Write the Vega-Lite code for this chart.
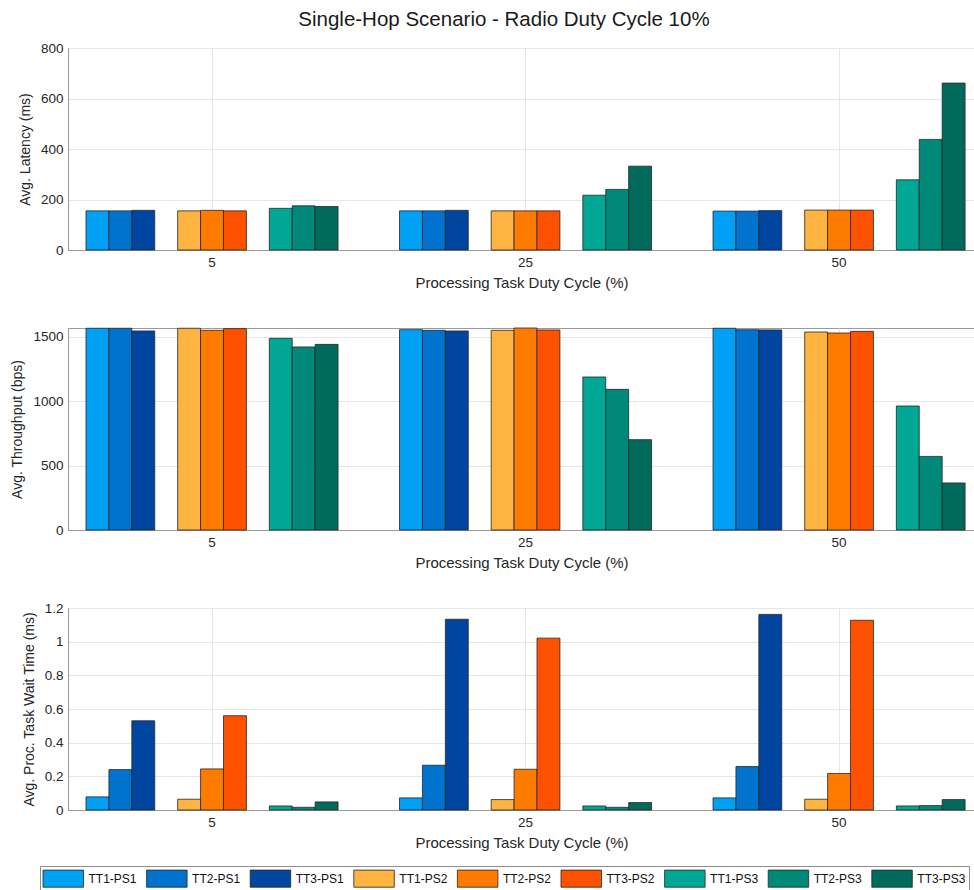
{
  "$schema": "https://vega.github.io/schema/vega-lite/v6.json",
  "padding": {"left": 10, "top": 10, "right": 0, "bottom": 0},
  "background": "white",
  "title": {
    "text": "Single-Hop Scenario - Radio Duty Cycle 10%",
    "fontSize": 20.5,
    "fontWeight": "normal",
    "font": "Liberation Sans",
    "color": "#1a1a1a",
    "anchor": "middle",
    "offset": 10,
    "dx": 11
  },
  "data": {
    "values": [
      {"cycle": "5", "series": "TT1-PS1", "latency": 155, "throughput": 1565, "wait": 0.078},
      {"cycle": "5", "series": "TT2-PS1", "latency": 155, "throughput": 1565, "wait": 0.240},
      {"cycle": "5", "series": "TT3-PS1", "latency": 157, "throughput": 1544, "wait": 0.530},
      {"cycle": "5", "series": "TT1-PS2", "latency": 155, "throughput": 1565, "wait": 0.064},
      {"cycle": "5", "series": "TT2-PS2", "latency": 157, "throughput": 1549, "wait": 0.244},
      {"cycle": "5", "series": "TT3-PS2", "latency": 155, "throughput": 1562, "wait": 0.560},
      {"cycle": "5", "series": "TT1-PS3", "latency": 165, "throughput": 1487, "wait": 0.024},
      {"cycle": "5", "series": "TT2-PS3", "latency": 175, "throughput": 1420, "wait": 0.016},
      {"cycle": "5", "series": "TT3-PS3", "latency": 172, "throughput": 1440, "wait": 0.048},
      {"cycle": "25", "series": "TT1-PS1", "latency": 155, "throughput": 1554, "wait": 0.072},
      {"cycle": "25", "series": "TT2-PS1", "latency": 155, "throughput": 1549, "wait": 0.266},
      {"cycle": "25", "series": "TT3-PS1", "latency": 157, "throughput": 1544, "wait": 1.133},
      {"cycle": "25", "series": "TT1-PS2", "latency": 155, "throughput": 1549, "wait": 0.062},
      {"cycle": "25", "series": "TT2-PS2", "latency": 155, "throughput": 1567, "wait": 0.242},
      {"cycle": "25", "series": "TT3-PS2", "latency": 155, "throughput": 1552, "wait": 1.021},
      {"cycle": "25", "series": "TT1-PS3", "latency": 217, "throughput": 1187, "wait": 0.024},
      {"cycle": "25", "series": "TT2-PS3", "latency": 240, "throughput": 1091, "wait": 0.016},
      {"cycle": "25", "series": "TT3-PS3", "latency": 332, "throughput": 701, "wait": 0.044},
      {"cycle": "50", "series": "TT1-PS1", "latency": 154, "throughput": 1565, "wait": 0.072},
      {"cycle": "50", "series": "TT2-PS1", "latency": 154, "throughput": 1554, "wait": 0.258},
      {"cycle": "50", "series": "TT3-PS1", "latency": 156, "throughput": 1552, "wait": 1.162},
      {"cycle": "50", "series": "TT1-PS2", "latency": 158, "throughput": 1536, "wait": 0.064},
      {"cycle": "50", "series": "TT2-PS2", "latency": 158, "throughput": 1528, "wait": 0.217},
      {"cycle": "50", "series": "TT3-PS2", "latency": 158, "throughput": 1541, "wait": 1.127},
      {"cycle": "50", "series": "TT1-PS3", "latency": 278, "throughput": 962, "wait": 0.024},
      {"cycle": "50", "series": "TT2-PS3", "latency": 438, "throughput": 571, "wait": 0.026},
      {"cycle": "50", "series": "TT3-PS3", "latency": 661, "throughput": 365, "wait": 0.062}
    ]
  },
  "bounds": "flush",
  "spacing": 78,
  "vconcat": [
    {
      "width": 907,
      "height": 202,
      "mark": {"type": "bar", "stroke": "#262626", "strokeWidth": 0.8},
      "encoding": {
        "x": {
          "field": "cycle", "type": "nominal", "sort": ["5", "25", "50"],
          "scale": {"paddingInner": 0.196, "paddingOuter": 0.0445, "align": 0.645},
          "axis": {"title": "Processing Task Duty Cycle (%)", "labelAngle": 0}
        },
        "xOffset": {
          "field": "series", "type": "nominal",
          "scale": {
            "domain": ["TT1-PS1", "TT2-PS1", "TT3-PS1", "gap-a", "TT1-PS2", "TT2-PS2", "TT3-PS2", "gap-b", "TT1-PS3", "TT2-PS3", "TT3-PS3"],
            "paddingInner": 0, "paddingOuter": 0
          }
        },
        "y": {
          "field": "latency", "type": "quantitative",
          "scale": {"domain": [0, 800], "nice": false},
          "axis": {"title": "Avg. Latency (ms)", "values": [0, 200, 400, 600, 800], "format": "d"}
        },
        "color": {
          "field": "series", "type": "nominal",
          "scale": {
            "domain": ["TT1-PS1", "TT2-PS1", "TT3-PS1", "TT1-PS2", "TT2-PS2", "TT3-PS2", "TT1-PS3", "TT2-PS3", "TT3-PS3"],
            "range": ["#00A1F5", "#0073CE", "#0046A1", "#FFB340", "#FF7B00", "#FF5200", "#00A795", "#008878", "#006B5B"]
          },
          "legend": {
            "title": null,
            "orient": "none",
            "legendX": -28,
            "legendY": 818,
            "direction": "horizontal",
            "columns": 9
          }
        }
      }
    },
    {
      "width": 907,
      "height": 202,
      "mark": {"type": "bar", "stroke": "#262626", "strokeWidth": 0.8},
      "encoding": {
        "x": {
          "field": "cycle", "type": "nominal", "sort": ["5", "25", "50"],
          "scale": {"paddingInner": 0.196, "paddingOuter": 0.0445, "align": 0.645},
          "axis": {"title": "Processing Task Duty Cycle (%)", "labelAngle": 0}
        },
        "xOffset": {
          "field": "series", "type": "nominal",
          "scale": {
            "domain": ["TT1-PS1", "TT2-PS1", "TT3-PS1", "gap-a", "TT1-PS2", "TT2-PS2", "TT3-PS2", "gap-b", "TT1-PS3", "TT2-PS3", "TT3-PS3"],
            "paddingInner": 0, "paddingOuter": 0
          }
        },
        "y": {
          "field": "throughput", "type": "quantitative",
          "scale": {"domain": [0, 1567], "nice": false},
          "axis": {"title": "Avg. Throughput (bps)", "values": [0, 500, 1000, 1500], "format": "d"}
        },
        "color": {"field": "series", "type": "nominal"}
      }
    },
    {
      "width": 907,
      "height": 202,
      "mark": {"type": "bar", "stroke": "#262626", "strokeWidth": 0.8},
      "encoding": {
        "x": {
          "field": "cycle", "type": "nominal", "sort": ["5", "25", "50"],
          "scale": {"paddingInner": 0.196, "paddingOuter": 0.0445, "align": 0.645},
          "axis": {"title": "Processing Task Duty Cycle (%)", "labelAngle": 0}
        },
        "xOffset": {
          "field": "series", "type": "nominal",
          "scale": {
            "domain": ["TT1-PS1", "TT2-PS1", "TT3-PS1", "gap-a", "TT1-PS2", "TT2-PS2", "TT3-PS2", "gap-b", "TT1-PS3", "TT2-PS3", "TT3-PS3"],
            "paddingInner": 0, "paddingOuter": 0
          }
        },
        "y": {
          "field": "wait", "type": "quantitative",
          "scale": {"domain": [0, 1.2], "nice": false},
          "axis": {"title": "Avg. Proc. Task Wait Time (ms)", "values": [0, 0.2, 0.4, 0.6, 0.8, 1, 1.2], "format": "~g"}
        },
        "color": {"field": "series", "type": "nominal"}
      }
    }
  ],
  "config": {
    "font": "Liberation Sans",
    "view": {"stroke": "#9a9a9a", "strokeWidth": 1},
    "axis": {
      "labelFont": "Liberation Sans",
      "titleFont": "Liberation Sans",
      "labelFontSize": 13.5,
      "titleFontSize": 14,
      "titleFontWeight": "normal",
      "labelColor": "#262626",
      "titleColor": "#262626",
      "domainColor": "#9a9a9a",
      "gridColor": "#e6e6e6",
      "gridOpacity": 1,
      "ticks": false,
      "grid": true
    },
    "axisX": {"labelPadding": 5, "titlePadding": 7, "titleFontSize": 15, "bandPosition": 0.5},
    "axisY": {"labelPadding": 5, "titlePadding": 8},
    "legend": {
      "labelFont": "Liberation Sans",
      "labelFontSize": 12,
      "labelColor": "#111111",
      "symbolType": "M-2.25,-0.95H2.25V0.95H-2.25Z",
      "symbolSize": 324,
      "symbolStrokeColor": "#262626",
      "symbolStrokeWidth": 0.8,
      "symbolOpacity": 1,
      "symbolOffset": 10.75,
      "labelOffset": 15.75,
      "columnPadding": 7.6,
      "rowPadding": 0,
      "padding": 3,
      "strokeColor": "#8f8f8f",
      "fillColor": "white"
    }
  }
}
